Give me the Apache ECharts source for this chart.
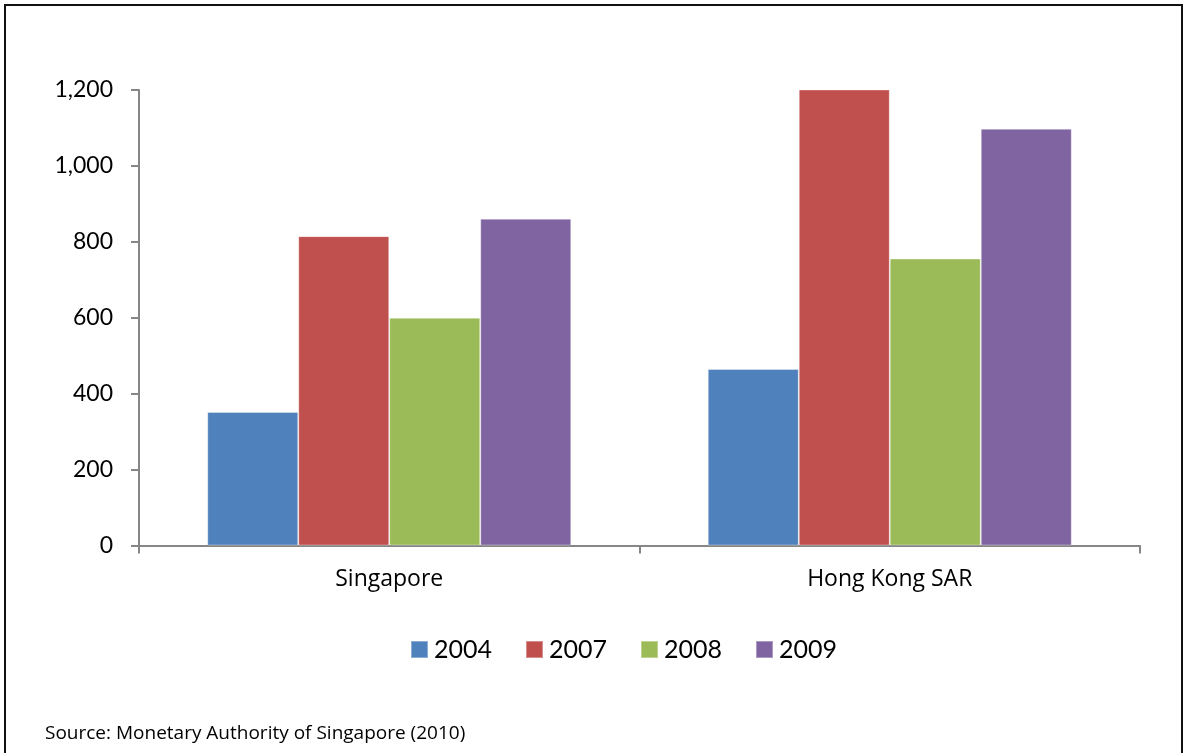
<!DOCTYPE html>
<html>
<head>
<meta charset="utf-8">
<script src="https://cdn.jsdelivr.net/npm/echarts@6/dist/echarts.min.js"></script>
<style>
html,body{margin:0;padding:0;background:#fff;overflow:hidden;}
#frame{position:absolute;left:4px;top:4px;width:1175px;height:800px;border:2px solid #111;box-sizing:content-box;}
#chart{position:absolute;left:0;top:0;width:1183px;height:753px;}
</style>
</head>
<body>
<div id="frame"></div>
<div id="chart"></div>
<script>
const categories = ['Singapore', 'Hong Kong SAR'];
const years = ['2004', '2007', '2008', '2009'];
const values2004 = [352, 465];
const values2007 = [815, 1204];
const values2008 = [600, 756];
const values2009 = [861, 1098];
const yTicks = [0, 200, 400, 600, 800, 1000, 1200];
const sourceText = 'Source: Monetary Authority of Singapore (2010)';

const colors = ['#4F81BD', '#C0504D', '#9BBB59', '#8064A2'];
const seriesValues = [values2004, values2007, values2008, values2009];
const font = 'Lato, "Open Sans", sans-serif';
const font2 = '"Open Sans", Lato, sans-serif';

const chart = echarts.init(document.getElementById('chart'), null, {renderer: 'canvas'});
chart.setOption({
  animation: false,
  backgroundColor: 'transparent',
  color: colors,
  textStyle: {fontFamily: font},
  grid: {left: 139, right: 43, top: 90, bottom: 207.5},
  legend: {
    data: years,
    left: 405,
    top: 632,
    icon: 'rect',
    itemWidth: 17,
    itemHeight: 17,
    itemGap: 33,
    textStyle: {fontFamily: font, fontSize: 25, color: '#000', padding: [0,0,0,1]}
  },
  xAxis: {
    type: 'category',
    data: categories,
    axisLine: {lineStyle: {color: '#868686', width: 2}},
    axisTick: {show: true, length: 8, lineStyle: {color: '#868686', width: 2}},
    axisLabel: {fontFamily: font2, fontSize: 23, color: '#000', margin: 22}
  },
  yAxis: {
    type: 'value',
    min: yTicks[0],
    max: yTicks[yTicks.length - 1],
    interval: 200,
    splitLine: {show: false},
    axisLine: {show: true, lineStyle: {color: '#868686', width: 2}},
    axisTick: {show: true, length: 8, lineStyle: {color: '#868686', width: 2}},
    axisLabel: {
      fontFamily: font, fontSize: 23, color: '#000', margin: 26,
      formatter: v => v.toLocaleString('en-US')
    }
  },
  series: years.map((y, i) => ({
    name: y,
    type: 'bar',
    data: seriesValues[i],
    barWidth: 91,
    barGap: '0%',
    itemStyle: {color: colors[i], borderColor: 'rgba(255,255,255,0.35)', borderWidth: 1}
  })),
  graphic: [{
    type: 'text',
    left: 45,
    top: 724,
    style: {text: sourceText, fontFamily: font2, fontSize: 19, fill: '#000'}
  }]
});
</script>
</body>
</html>
